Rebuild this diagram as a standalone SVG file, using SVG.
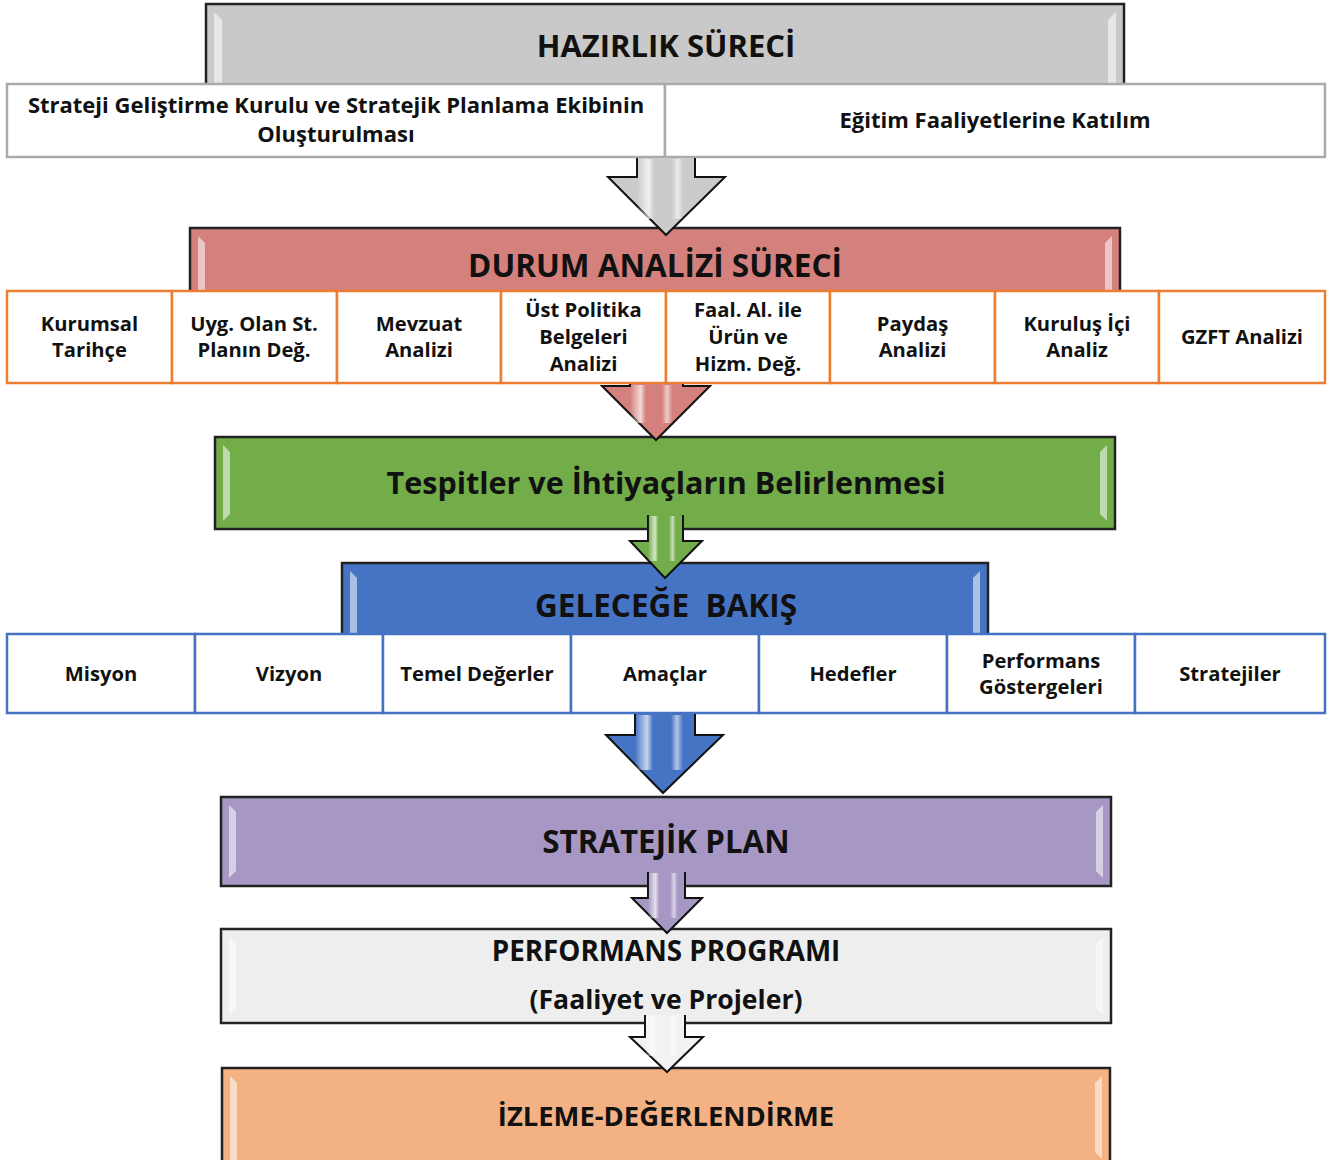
<svg xmlns="http://www.w3.org/2000/svg" width="1343" height="1160" viewBox="0 0 1343 1160">
<style>
text{font-family:"Open Sans",Lato,"Liberation Sans",sans-serif;font-weight:bold;fill:#111;text-anchor:middle}
.bn{stroke:#222;stroke-width:2.5}
.hl{fill:#fff;opacity:.55}
.c1{fill:#fff;stroke:#aaaaaa;stroke-width:2.5}
.c2{fill:#fff;stroke:#ed7d31;stroke-width:2.5}
.c4{fill:#fff;stroke:#4472c4;stroke-width:2.5}
.t1{font-size:22px}
.t2{font-size:20.2px}
.arr{stroke:#111;stroke-width:2;stroke-linejoin:miter}
</style>
<defs>
<linearGradient id="sh" x1="0" y1="0" x2="1" y2="0">
<stop offset="0" stop-color="#fff" stop-opacity="0"/>
<stop offset="0.2" stop-color="#fff" stop-opacity="0.7"/>
<stop offset="0.3" stop-color="#fff" stop-opacity="0"/>
<stop offset="0.6" stop-color="#fff" stop-opacity="0"/>
<stop offset="0.7" stop-color="#fff" stop-opacity="0.6"/>
<stop offset="0.8" stop-color="#fff" stop-opacity="0"/>
</linearGradient>
</defs>

<g id="banner-hazirlik">
<rect class="bn" x="206" y="4" width="918" height="82" fill="#c9c9c9"/>
<path class="hl" d="M214 12 L222 20 L222 84 L214 84 Z"/>
<path class="hl" d="M1116 12 L1108 20 L1108 84 L1116 84 Z"/>
<text x="666" y="57" font-size="31">HAZIRLIK SÜRECİ</text>
</g>

<g id="banner-durum">
<rect class="bn" x="190" y="228" width="930" height="65" fill="#d4807c"/>
<path class="hl" d="M198 236 L205 243 L205 291 L198 291 Z"/>
<path class="hl" d="M1112 236 L1105 243 L1105 291 L1112 291 Z"/>
<text x="655" y="277" font-size="31.5">DURUM ANALİZİ SÜRECİ</text>
</g>

<g id="banner-tespit">
<rect class="bn" x="215" y="437" width="900" height="92" fill="#72ad4a"/>
<path class="hl" d="M223 445 L230 452 L230 514 L223 521 Z"/>
<path class="hl" d="M1107 445 L1100 452 L1100 514 L1107 521 Z"/>
<text x="666" y="494" font-size="30.5">Tespitler ve İhtiyaçların Belirlenmesi</text>
</g>

<g id="banner-gelecek">
<rect class="bn" x="342" y="563" width="646" height="73" fill="#4674c4"/>
<path class="hl" d="M350 571 L357 578 L357 634 L350 634 Z"/>
<path class="hl" d="M980 571 L973 578 L973 634 L980 634 Z"/>
<text x="666" y="617" font-size="31.5">GELECEĞE&#160; BAKIŞ</text>
</g>

<g id="banner-plan">
<rect class="bn" x="221" y="797" width="890" height="89" fill="#a797c4"/>
<path class="hl" d="M229 805 L236 812 L236 871 L229 878 Z"/>
<path class="hl" d="M1103 805 L1096 812 L1096 871 L1103 878 Z"/>
<text x="666" y="853" font-size="31.3">STRATEJİK PLAN</text>
</g>

<g id="banner-performans">
<rect class="bn" x="221" y="929" width="890" height="94" fill="#eeeeee"/>
<path class="hl" d="M229 937 L236 944 L236 1008 L229 1015 Z" opacity="0.9"/>
<path class="hl" d="M1103 937 L1096 944 L1096 1008 L1103 1015 Z" opacity="0.9"/>
<text x="666" y="961" font-size="27.8">PERFORMANS PROGRAMI</text>
<text x="666" y="1009" font-size="26.6">(Faaliyet ve Projeler)</text>
</g>

<g id="banner-izleme">
<rect class="bn" x="222" y="1068" width="888" height="100" fill="#f4b183"/>
<path class="hl" d="M230 1076 L237 1083 L237 1160 L230 1160 Z" opacity="0.8"/>
<path class="hl" d="M1102 1076 L1095 1083 L1095 1152 L1102 1159 Z" opacity="0.8"/>
<text x="666" y="1126" font-size="27.4">İZLEME-DEĞERLENDİRME</text>
</g>

<g id="row-hazirlik">
<g id="n-kurul"><rect class="c1" x="7" y="84" width="658" height="73"/>
<text class="t1" x="336" y="113">Strateji Geliştirme Kurulu ve Stratejik Planlama Ekibinin</text>
<text class="t1" x="336" y="142">Oluşturulması</text></g>
<g id="n-egitim"><rect class="c1" x="665" y="84" width="660" height="73"/>
<text class="t1" x="995" y="128">Eğitim Faaliyetlerine Katılım</text></g>
</g>

<g id="row-durum">
<g id="n-tarihce"><rect class="c2" x="7" y="291" width="165" height="92"/>
<text class="t2" x="89.5" y="331">Kurumsal</text><text class="t2" x="89.5" y="357">Tarihçe</text></g>
<g id="n-uyg"><rect class="c2" x="172" y="291" width="165" height="92"/>
<text class="t2" x="254" y="331">Uyg. Olan St.</text><text class="t2" x="254" y="357">Planın Değ.</text></g>
<g id="n-mevzuat"><rect class="c2" x="337" y="291" width="164" height="92"/>
<text class="t2" x="419" y="331">Mevzuat</text><text class="t2" x="419" y="357">Analizi</text></g>
<g id="n-ust"><rect class="c2" x="501" y="291" width="165" height="92"/>
<text class="t2" x="583.5" y="317">Üst Politika</text><text class="t2" x="583.5" y="344">Belgeleri</text><text class="t2" x="583.5" y="371">Analizi</text></g>
<g id="n-faal"><rect class="c2" x="666" y="291" width="164" height="92"/>
<text class="t2" x="748" y="317">Faal. Al. ile</text><text class="t2" x="748" y="344">Ürün ve</text><text class="t2" x="748" y="371">Hizm. Değ.</text></g>
<g id="n-paydas"><rect class="c2" x="830" y="291" width="165" height="92"/>
<text class="t2" x="912.5" y="331">Paydaş</text><text class="t2" x="912.5" y="357">Analizi</text></g>
<g id="n-kurulus"><rect class="c2" x="995" y="291" width="164" height="92"/>
<text class="t2" x="1077" y="331">Kuruluş İçi</text><text class="t2" x="1077" y="357">Analiz</text></g>
<g id="n-gzft"><rect class="c2" x="1159" y="291" width="166" height="92"/>
<text class="t2" x="1242" y="344">GZFT Analizi</text></g>
</g>

<g id="row-gelecek">
<g id="n-misyon"><rect class="c4" x="7" y="634" width="188" height="79"/><text class="t2" x="101" y="681">Misyon</text></g>
<g id="n-vizyon"><rect class="c4" x="195" y="634" width="188" height="79"/><text class="t2" x="289" y="681">Vizyon</text></g>
<g id="n-temel"><rect class="c4" x="383" y="634" width="188" height="79"/><text class="t2" x="477" y="681">Temel Değerler</text></g>
<g id="n-amac"><rect class="c4" x="571" y="634" width="188" height="79"/><text class="t2" x="665" y="681">Amaçlar</text></g>
<g id="n-hedef"><rect class="c4" x="759" y="634" width="188" height="79"/><text class="t2" x="853" y="681">Hedefler</text></g>
<g id="n-gosterge"><rect class="c4" x="947" y="634" width="188" height="79"/><text class="t2" x="1041" y="668">Performans</text><text class="t2" x="1041" y="694">Göstergeleri</text></g>
<g id="n-strateji"><rect class="c4" x="1135" y="634" width="190" height="79"/><text class="t2" x="1230" y="681">Stratejiler</text></g>
</g>

<g id="connectors">
<g><path class="arr" d="M637 158 L637 177 L608 177 L666 235 L725 177 L695 177 L695 158" fill="#cbcbcb"/>
<rect x="637" y="159" width="58" height="60" fill="url(#sh)"/></g>
<g><path class="arr" d="M630 384 L630 386 L602 386 L656 440 L710 386 L683 386 L683 384" fill="#d4807c"/>
<rect x="630" y="385" width="53" height="38" fill="url(#sh)"/></g>
<g><path class="arr" d="M648 515 L648 541 L630 541 L665 578 L702 541 L683 541 L683 515" fill="#72ad4a"/>
<rect x="648" y="516" width="35" height="45" fill="url(#sh)"/></g>
<g><path class="arr" d="M635 714 L635 735 L606 735 L663 793 L723 735 L695 735 L695 714" fill="#4674c4"/>
<rect x="635" y="715" width="60" height="55" fill="url(#sh)"/></g>
<g><path class="arr" d="M648 872 L648 898 L632 898 L667 933 L702 898 L685 898 L685 872" fill="#a797c4"/>
<rect x="648" y="873" width="37" height="45" fill="url(#sh)"/></g>
<g><path class="arr" d="M645 1015 L645 1037 L630 1037 L667 1072 L703 1037 L685 1037 L685 1015" fill="#f2f2f2"/>
<rect x="645" y="1016" width="40" height="40" fill="url(#sh)"/></g>
</g>
</svg>
